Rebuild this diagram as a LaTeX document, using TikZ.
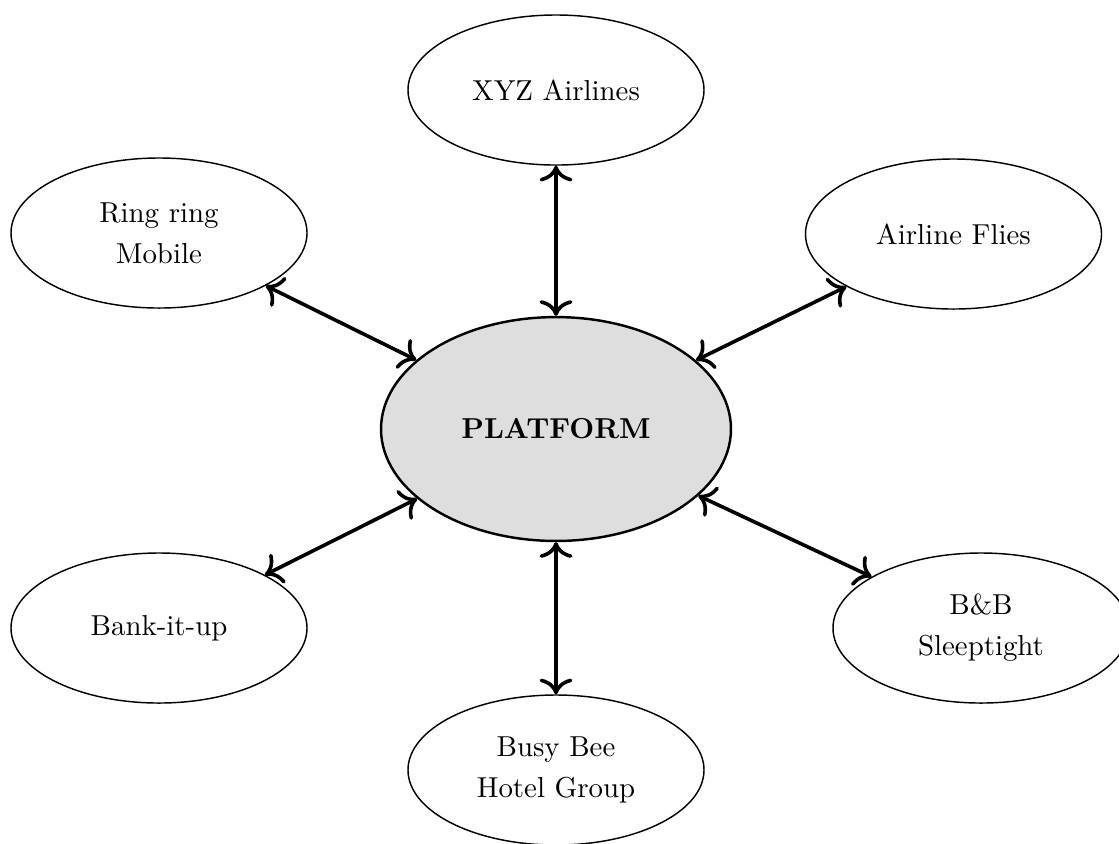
\documentclass[tikz,border=0pt]{standalone}
\usetikzlibrary{shapes.geometric,arrows.meta}
\begin{document}
\begin{tikzpicture}[x=0.3466pt, y=-0.3466pt,
  partner/.style={ellipse, draw, line width=0.5pt, minimum width=102.6pt,
    minimum height=52pt, inner sep=0pt, align=center,
    font=\fontsize{10}{14.2}\selectfont},
  hub/.style={ellipse, draw, line width=0.85pt, fill=black!13,
    minimum width=121.3pt, minimum height=77.6pt, inner sep=0pt,
    font=\bfseries},
  link/.style={{To[scale=1.25]}-{To[scale=1.25]}, line width=1.25pt}]
  \useasboundingbox (0,0) rectangle (1119,843);
  \clip (0,0) rectangle (1119,843);

  % central platform and its partners
  \node[hub] (platform) at (556,429) {PLATFORM};
  \node[partner] (xyz)   at (556,90)    {XYZ Airlines};
  \node[partner] (ring)  at (159,233)   {Ring ring\\Mobile};
  \node[partner] (flies) at (953.5,234) {Airline Flies};
  \node[partner] (bank)  at (159,628)   {Bank-it-up};
  \node[partner] (bnb)   at (981,628)   {B\&B\\Sleeptight};
  \node[partner] (busy)  at (556,770)   {Busy Bee\\Hotel Group};

  % two-way links
  \foreach \p in {xyz,ring,flies,bank,bnb,busy}
    \draw[link] (platform) -- (\p);
\end{tikzpicture}
\end{document}
